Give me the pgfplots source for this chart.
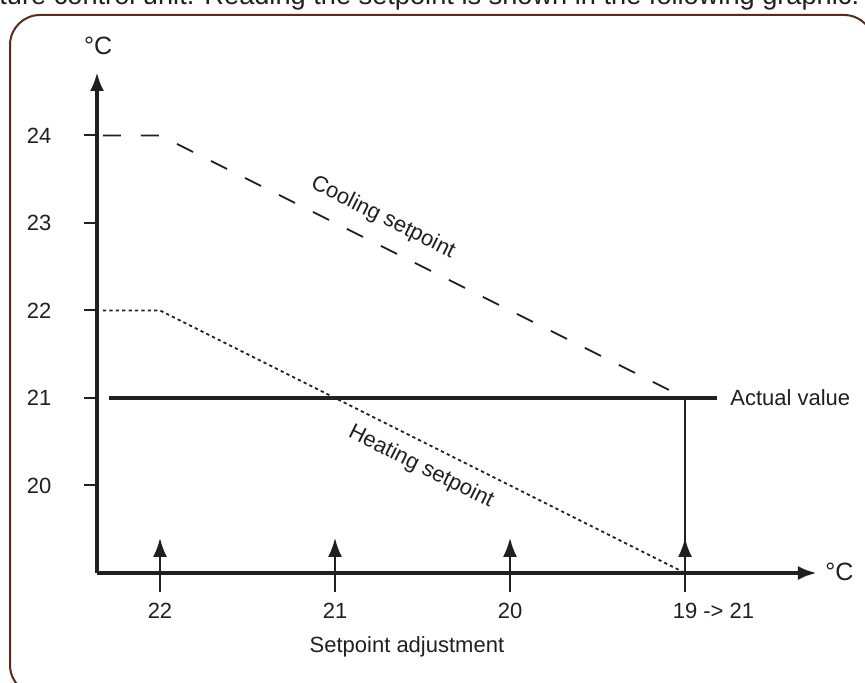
\documentclass[border=0pt]{standalone}
\usepackage{pgfplots}
\pgfplotsset{compat=1.18}
\usepackage{fontspec}
\setmainfont{Liberation Sans}
\usetikzlibrary{arrows.meta}
\definecolor{ink}{HTML}{231F20}
\definecolor{framec}{HTML}{5A2A1E}
\begin{document}
\begin{tikzpicture}
\useasboundingbox (0pt,0pt) rectangle (432.5pt,341.5pt);
\clip (0pt,0pt) rectangle (432.5pt,341.5pt);
\node[anchor=base west, font=\fontsize{13.6}{15}\selectfont, text=ink, inner sep=0pt] at (-0.5pt,339pt) {ture control unit. Reading the setpoint is shown in the following graphic.};
\draw[framec, line width=1pt, rounded corners=15pt] (5pt,334pt) rectangle (437pt,-6pt);
\begin{axis}[
  at={(48.5pt,55pt)}, anchor=south west,
  x=87.5pt, y=43.75pt,
  xmin=0.64, xmax=4.754, ymin=19, ymax=24.726,
  axis lines=left,
  axis line style={ink, line width=2.2pt},
  x axis line style={-{Latex[length=9.5pt,width=7pt]}},
  y axis line style={-{Latex[length=9.5pt,width=7pt]}},
  ytick={20,21,22,23,24},
  yticklabels={20,21,22,23,24},
  tick align=outside,
  major tick length=6.5pt,
  ytick style={ink, line width=1pt},
  xtick={1,2,3,4},
  xticklabels={22,21,20,{19\rlap{ -> 21}}},
  xtick style={draw=none},
  tick label style={font=\fontsize{11}{13}\selectfont, text=ink},
  yticklabel style={anchor=east, xshift=-12.8pt},
  xticklabel style={anchor=north, yshift=-4.8pt},
  /pgf/number format/assume math mode=true,
  clip=false,
  every axis plot/.append style={ink},
]
\addplot[line width=0.9pt, dash pattern=on 9pt off 10pt] coordinates {(0.674,24) (1,24) (4,21)};
\addplot[line width=0.9pt, dash pattern=on 1.6pt off 1.6pt] coordinates {(0.674,22) (1,22) (4,19)};
\addplot[line width=1.9pt] coordinates {(0.709,21) (4.183,21)};
\addplot[line width=1pt] coordinates {(4,19.3) (4,21)};
\addplot[line width=1pt, -{Latex[length=9.5pt,width=7pt]}] coordinates {(1,18.783) (1,19.4)};
\addplot[line width=1pt, -{Latex[length=9.5pt,width=7pt]}] coordinates {(2,18.783) (2,19.4)};
\addplot[line width=1pt, -{Latex[length=9.5pt,width=7pt]}] coordinates {(3,18.783) (3,19.4)};
\addplot[line width=1pt, -{Latex[length=9.5pt,width=7pt]}] coordinates {(4,18.783) (4,19.4)};
\node[anchor=base, inner sep=0pt, text=ink, font=\fontsize{12.5}{14}\selectfont] at (axis cs:0.646,24.92) {°C};
\node[anchor=base west, inner sep=0pt, text=ink, font=\fontsize{12.5}{14}\selectfont] at (axis cs:4.8,18.909) {°C};
\node[anchor=base west, inner sep=0pt, text=ink, font=\fontsize{11}{13}\selectfont] at (axis cs:4.257,20.909) {Actual value};
\node[anchor=base, inner sep=0pt, text=ink, font=\fontsize{11}{13}\selectfont] at (axis cs:2.411,18.086) {Setpoint adjustment};
\node[rotate=-26.5, text=ink, font=\fontsize{11}{13}\selectfont] at (axis cs:2.274,23.057) {Cooling setpoint};
\node[rotate=-26.5, text=ink, font=\fontsize{11}{13}\selectfont] at (axis cs:2.491,20.211) {Heating setpoint};
\end{axis}
\end{tikzpicture}
\end{document}
